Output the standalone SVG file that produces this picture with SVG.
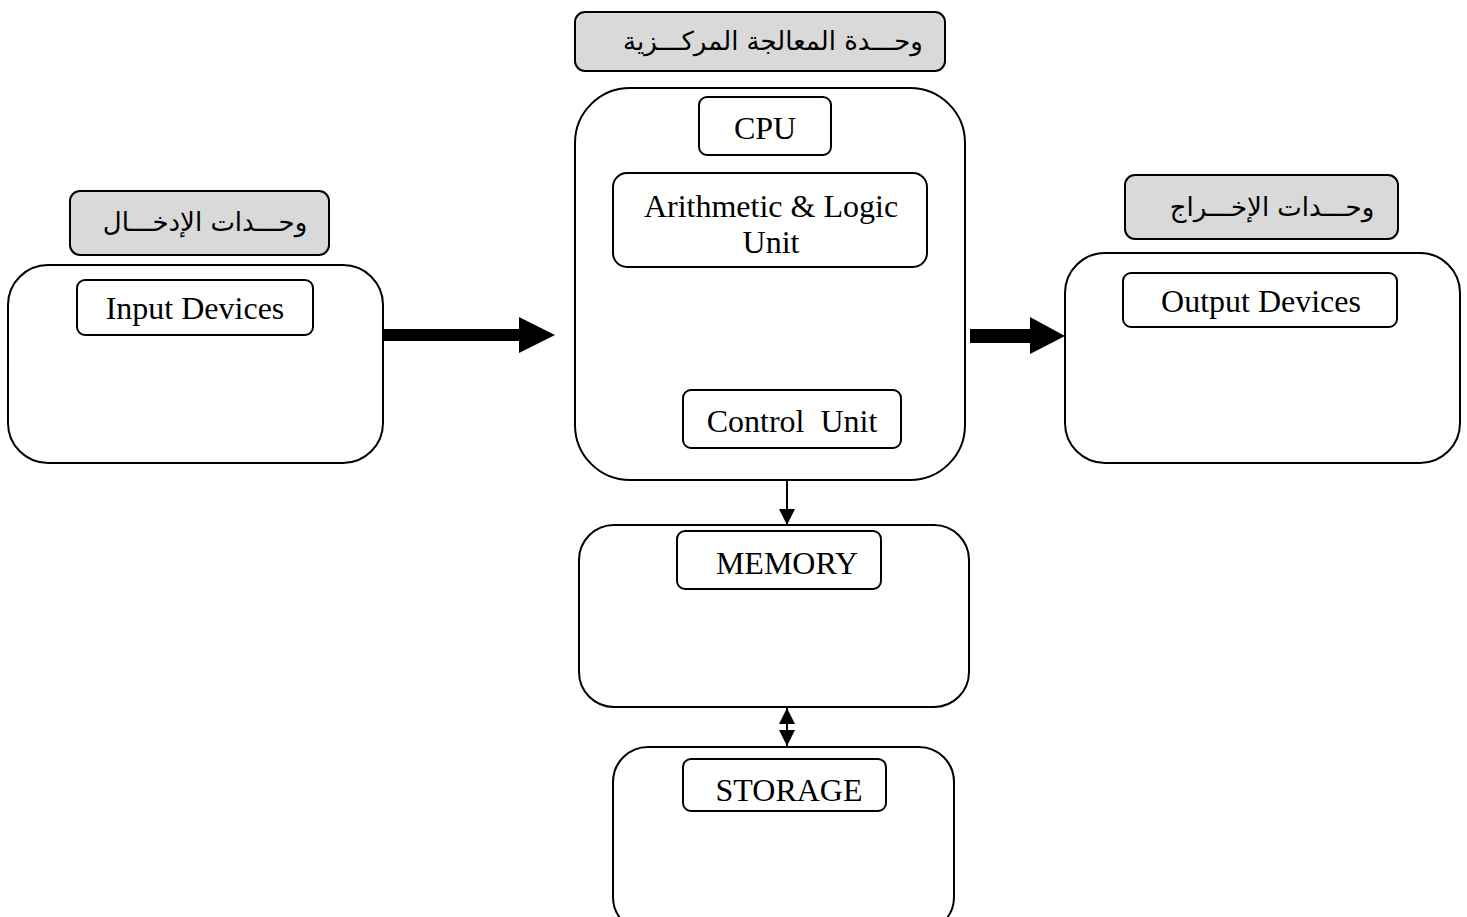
<svg xmlns="http://www.w3.org/2000/svg" width="1467" height="917" viewBox="0 0 1467 917">
<style>
.box{fill:#fff;stroke:#000;stroke-width:2}
.hdr{fill:#d9d9d9;stroke:#000;stroke-width:2}
.t{font-family:"Liberation Serif","Times New Roman",serif;font-size:32px;fill:#000;text-anchor:middle}
.ar{font-family:"DejaVu Sans",sans-serif;font-size:26px;fill:#000;text-anchor:middle;direction:rtl}
.thin{stroke:#000;stroke-width:2;fill:none}
</style>
<defs>
<marker id="ah" viewBox="0 0 10 10" refX="10" refY="5" markerWidth="16" markerHeight="16" markerUnits="userSpaceOnUse" orient="auto-start-reverse">
<path d="M0,0 L10,5 L0,10 z" fill="#000"/>
</marker>
</defs>
<rect width="1467" height="917" fill="#fff"/>
<g id="cpu">
<rect class="hdr" x="575" y="12" width="370" height="59" rx="10"/>
<text class="ar" x="773" y="50">وحـــدة المعالجة المركـــزية</text>
<rect class="box" x="575" y="88" width="390" height="392" rx="55"/>
<rect class="box" x="699" y="97" width="132" height="58" rx="8"/>
<text class="t" x="765" y="139">CPU</text>
<rect class="box" x="613" y="173" width="314" height="94" rx="14"/>
<text class="t" x="771" y="217">Arithmetic &amp; Logic</text>
<text class="t" x="771" y="253">Unit</text>
<rect class="box" x="683" y="390" width="218" height="58" rx="8"/>
<text class="t" x="792" y="432" xml:space="preserve">Control  Unit</text>
</g>
<g id="input">
<rect class="hdr" x="70" y="191" width="259" height="64" rx="10"/>
<text class="ar" x="205" y="231">وحـــدات الإدخـــال</text>
<rect class="box" x="8" y="265" width="375" height="198" rx="40"/>
<rect class="box" x="77" y="280" width="236" height="55" rx="8"/>
<text class="t" x="195" y="319">Input Devices</text>
</g>
<g id="output">
<rect class="hdr" x="1125" y="175" width="273" height="64" rx="10"/>
<text class="ar" x="1272" y="216">وحـــدات الإخـــراج</text>
<rect class="box" x="1065" y="253" width="395" height="210" rx="40"/>
<rect class="box" x="1123" y="273" width="274" height="54" rx="8"/>
<text class="t" x="1261" y="312">Output Devices</text>
</g>
<g id="memory">
<rect class="box" x="579" y="525" width="390" height="182" rx="35"/>
<rect class="box" x="677" y="531" width="204" height="58" rx="8"/>
<text class="t" x="787" y="574">MEMORY</text>
</g>
<g id="storage">
<rect class="box" x="613" y="747" width="341" height="185" rx="35"/>
<rect class="box" x="683" y="759" width="203" height="52" rx="8"/>
<text class="t" x="789" y="801">STORAGE</text>
</g>
<g id="connectors">
<path d="M384,329 H519 V317 L555,335 L519,353 V341 H384 z" fill="#000"/>
<path d="M970,329 H1030 V317 L1065,336 L1030,354 V343 H970 z" fill="#000"/>
<line class="thin" x1="787" y1="480" x2="787" y2="525" marker-end="url(#ah)"/>
<line class="thin" x1="787" y1="708" x2="787" y2="746" marker-start="url(#ah)" marker-end="url(#ah)"/>
</g>
</svg>
